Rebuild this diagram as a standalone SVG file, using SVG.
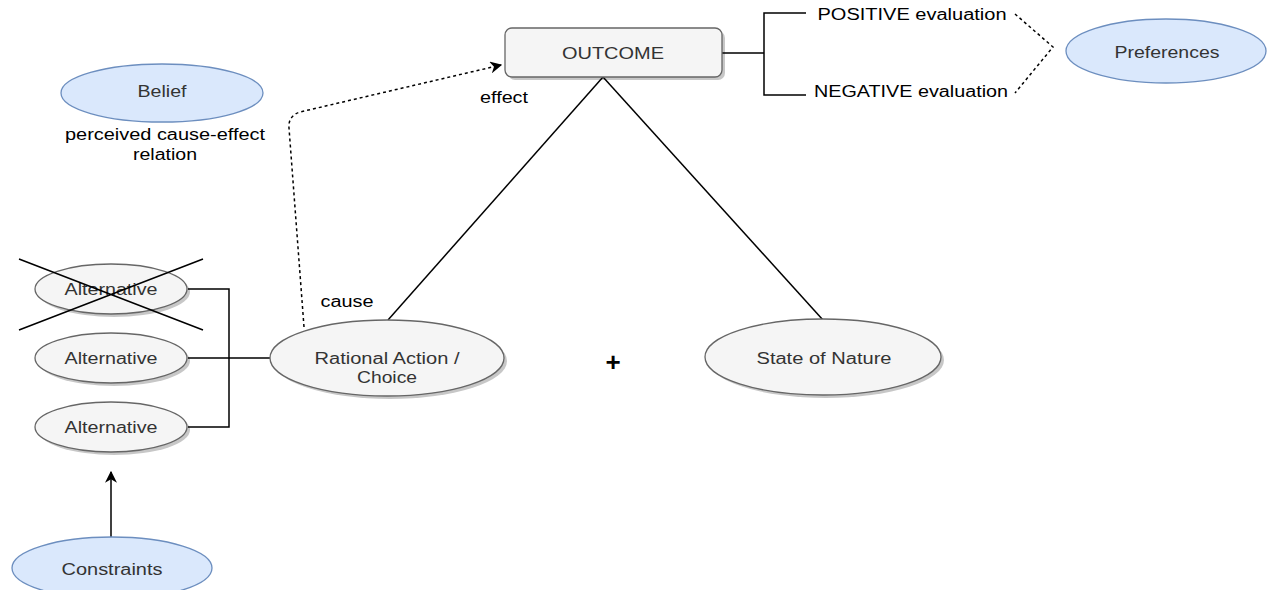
<svg xmlns="http://www.w3.org/2000/svg" width="1267" height="590" viewBox="0 0 1267 590">
<defs>
<marker id="arr" viewBox="0 0 10 10" refX="9" refY="5" markerWidth="12" markerHeight="12" markerUnits="userSpaceOnUse" orient="auto">
<path d="M0,0 L10,5 L0,10 L3,5 Z" fill="#000"/>
</marker>
<style>
text{font-family:"Liberation Sans",Arial,sans-serif;font-size:16px;text-anchor:middle;}
.nt{fill:#333333;}
.lt{fill:#000000;}
.gray{fill:#f5f5f5;stroke:#666666;stroke-width:1.3;}
.blue{fill:#dae8fc;stroke:#6c8ebf;stroke-width:1.3;}
.sh{fill:#000;opacity:0.22;}
.ln{fill:none;stroke:#000;stroke-width:1.5;}
.dash{fill:none;stroke:#000;stroke-width:1.5;stroke-dasharray:3,3;}
</style>
</defs>
<rect width="1267" height="590" fill="#ffffff"/>

<g id="connectors">
<path class="ln" d="M603,77 L388,320"/>
<path class="ln" d="M603,77 L823,320"/>
<path class="ln" d="M722,53 L764,53 M806,13 L764,13 L764,95 L806,95"/>
<path class="dash" d="M1015,14 L1053,47 L1015,93"/>
<path class="dash" d="M304,327 L289,128 Q288,116 300,112 L501,65" marker-end="url(#arr)"/>
<path class="ln" d="M188,289 L229,289 L229,427 L188,427 M188,358 L270,358"/>
<path class="ln" d="M111,537 L111,472" marker-end="url(#arr)"/>
</g>

<g id="outcome">
<rect class="sh" x="508" y="31" width="217" height="49" rx="7"/>
<rect class="gray" x="505" y="28" width="217" height="49" rx="7"/>
<text class="nt" x="613" y="59" textLength="102" lengthAdjust="spacingAndGlyphs">OUTCOME</text>
</g>

<g id="positive"><text class="lt" x="912" y="20" textLength="189" lengthAdjust="spacingAndGlyphs">POSITIVE evaluation</text></g>
<g id="negative"><text class="lt" x="911" y="97" textLength="194" lengthAdjust="spacingAndGlyphs">NEGATIVE evaluation</text></g>

<g id="preferences">
<ellipse class="blue" cx="1166" cy="51" rx="100" ry="32"/>
<text class="nt" x="1167" y="58" textLength="105" lengthAdjust="spacingAndGlyphs">Preferences</text>
</g>

<g id="belief">
<ellipse class="blue" cx="162" cy="93" rx="101" ry="29"/>
<text class="nt" x="162" y="97" textLength="49" lengthAdjust="spacingAndGlyphs">Belief</text>
</g>
<g id="belief-label">
<text class="lt" x="165" y="140" textLength="200" lengthAdjust="spacingAndGlyphs">perceived cause-effect</text>
<text class="lt" x="165" y="160" textLength="64" lengthAdjust="spacingAndGlyphs">relation</text>
</g>

<g id="effect-label"><text class="lt" x="504" y="103" textLength="48" lengthAdjust="spacingAndGlyphs">effect</text></g>
<g id="cause-label"><text class="lt" x="347" y="307" textLength="53" lengthAdjust="spacingAndGlyphs">cause</text></g>

<g id="alt1">
<ellipse class="sh" cx="114" cy="292" rx="76" ry="25"/>
<ellipse class="gray" cx="111" cy="289" rx="76" ry="25"/>
<text class="nt" x="111" y="295" textLength="93" lengthAdjust="spacingAndGlyphs">Alternative</text>
</g>
<g id="cross">
<path class="ln" d="M19,259 L203,330 M19,330 L203,259"/>
</g>
<g id="alt2">
<ellipse class="sh" cx="114" cy="361" rx="76" ry="25"/>
<ellipse class="gray" cx="111" cy="358" rx="76" ry="25"/>
<text class="nt" x="111" y="364" textLength="93" lengthAdjust="spacingAndGlyphs">Alternative</text>
</g>
<g id="alt3">
<ellipse class="sh" cx="114" cy="430" rx="76" ry="25"/>
<ellipse class="gray" cx="111" cy="427" rx="76" ry="25"/>
<text class="nt" x="111" y="433" textLength="93" lengthAdjust="spacingAndGlyphs">Alternative</text>
</g>

<g id="rational">
<ellipse class="sh" cx="390" cy="361" rx="117" ry="38"/>
<ellipse class="gray" cx="387" cy="358" rx="117" ry="38"/>
<text class="nt" x="387" y="364" textLength="145" lengthAdjust="spacingAndGlyphs">Rational Action /</text>
<text class="nt" x="387" y="383" textLength="60" lengthAdjust="spacingAndGlyphs">Choice</text>
</g>

<g id="plus"><text x="613" y="371" style="font-size:26px;font-weight:bold;fill:#000">+</text></g>

<g id="state">
<ellipse class="sh" cx="826" cy="360" rx="118" ry="38"/>
<ellipse class="gray" cx="823" cy="357" rx="118" ry="38"/>
<text class="nt" x="824" y="364" textLength="135" lengthAdjust="spacingAndGlyphs">State of Nature</text>
</g>

<g id="constraints">
<ellipse class="blue" cx="112" cy="568" rx="100" ry="31"/>
<text class="nt" x="112" y="575" textLength="101" lengthAdjust="spacingAndGlyphs">Constraints</text>
</g>
</svg>
